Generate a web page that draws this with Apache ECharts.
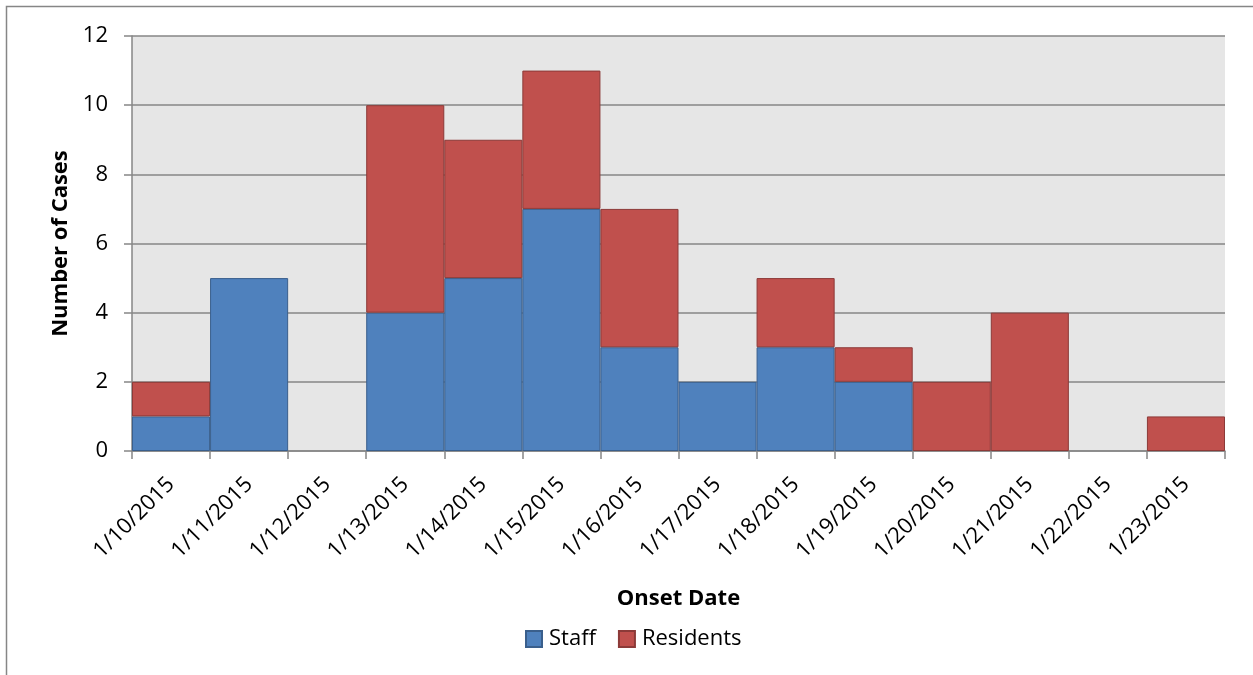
<!DOCTYPE html>
<html>
<head>
<meta charset="utf-8">
<script src="https://cdn.jsdelivr.net/npm/echarts@6/dist/echarts.min.js"></script>
<style>
  html, body { margin: 0; padding: 0; background: #fff; }
  #chart { width: 1253px; height: 675px; }
</style>
</head>
<body>
<div id="chart"></div>
<script>
var dates = ['1/10/2015', '1/11/2015', '1/12/2015', '1/13/2015', '1/14/2015', '1/15/2015', '1/16/2015',
  '1/17/2015', '1/18/2015', '1/19/2015', '1/20/2015', '1/21/2015', '1/22/2015', '1/23/2015'];
var staff = [1, 5, 0, 4, 5, 7, 3, 2, 3, 2, 0, 0, 0, 0];
var residents = [1, 0, 0, 6, 4, 4, 4, 0, 2, 1, 2, 4, 0, 1];
var yTicks = [0, 2, 4, 6, 8, 10, 12];

var font = '"Open Sans", "Noto Sans", sans-serif';

// zero-height stacks are left out so no border stub gets drawn
function clean(arr) {
  return arr.map(function (v) { return v === 0 ? '-' : v; });
}

var chart = echarts.init(document.getElementById('chart'));
chart.setOption({
  animation: false,
  backgroundColor: '#fff',
  textStyle: { fontFamily: font, color: '#000' },
  graphic: [{
    type: 'rect',
    shape: { x: 6.5, y: 6.5, width: 1270, height: 700 },
    style: { fill: null, stroke: '#868686', lineWidth: 1.5 },
    silent: true
  }],
  legend: {
    bottom: 20,
    left: 520,
    itemWidth: 16,
    itemHeight: 16,
    itemGap: 22,
    icon: 'rect',
    textStyle: { fontSize: 22, fontFamily: font, color: '#000', padding: [0, 0, 0, 2] },
    data: ['Staff', 'Residents']
  },
  grid: {
    left: 132, right: 28, top: 36, bottom: 224,
    show: true,
    backgroundColor: '#E6E6E6',
    borderWidth: 0
  },
  xAxis: {
    type: 'category',
    data: dates,
    name: 'Onset Date',
    nameLocation: 'middle',
    nameGap: 137,
    nameTextStyle: { fontSize: 22, fontWeight: 'bold', fontFamily: font, color: '#000' },
    axisLine: { lineStyle: { color: '#868686', width: 1.5 } },
    axisTick: { show: true, length: 8, alignWithLabel: false, lineStyle: { color: '#868686', width: 1.5 } },
    axisLabel: { rotate: 45, fontSize: 22, color: '#000', margin: 30, interval: 0 },
    splitLine: { show: false }
  },
  yAxis: {
    type: 'value',
    min: yTicks[0],
    max: yTicks[yTicks.length - 1],
    interval: 2,
    name: 'Number of Cases',
    nameLocation: 'middle',
    nameGap: 59,
    nameTextStyle: { fontSize: 22, fontWeight: 'bold', fontFamily: font, color: '#000' },
    axisLine: { show: true, lineStyle: { color: '#868686', width: 1.5 } },
    axisTick: { show: true, length: 8, lineStyle: { color: '#868686', width: 1.5 } },
    axisLabel: { fontSize: 22, color: '#000', margin: 24 },
    splitLine: { show: true, lineStyle: { color: '#868686', width: 1.5 } }
  },
  series: [{
    name: 'Staff',
    type: 'bar',
    stack: 'cases',
    data: clean(staff),
    barCategoryGap: 0,
    itemStyle: { color: '#4F81BD', borderColor: '#3A5F8C', borderWidth: 1 }
  }, {
    name: 'Residents',
    type: 'bar',
    stack: 'cases',
    data: clean(residents),
    barCategoryGap: 0,
    itemStyle: { color: '#C0504D', borderColor: '#8C3A38', borderWidth: 1 }
  }]
});
</script>
</body>
</html>
